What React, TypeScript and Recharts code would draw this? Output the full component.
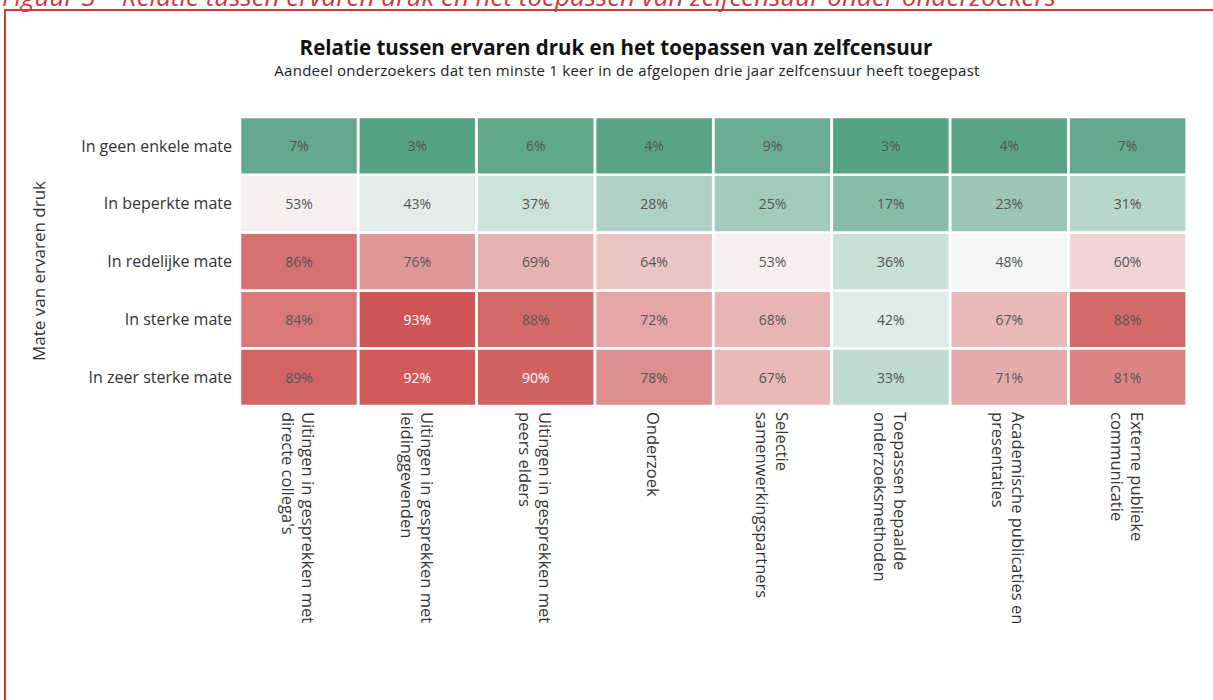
import { BarChart, Bar, XAxis, YAxis, Cell, LabelList } from "recharts";

// Kolommen (vormen van zelfcensuur) en rijen (mate van ervaren druk)
const columns = [
  ["Uitingen in gesprekken met", "directe collega's"],
  ["Uitingen in gesprekken met", "leidinggevenden"],
  ["Uitingen in gesprekken met", "peers elders"],
  ["Onderzoek"],
  ["Selectie", "samenwerkingspartners"],
  ["Toepassen bepaalde", "onderzoeksmethoden"],
  ["Academische publicaties en", "presentaties"],
  ["Externe publieke", "communicatie"],
];

const rowLabels = [
  "In geen enkele mate",
  "In beperkte mate",
  "In redelijke mate",
  "In sterke mate",
  "In zeer sterke mate",
];

// percentage dat ten minste 1 keer zelfcensuur toepaste, per rij
const geenEnkeleMate = [7, 3, 6, 4, 9, 3, 4, 7];
const beperkteMate = [53, 43, 37, 28, 25, 17, 23, 31];
const redelijkeMate = [86, 76, 69, 64, 53, 36, 48, 60];
const sterkeMate = [84, 93, 88, 72, 68, 42, 67, 88];
const zeerSterkeMate = [89, 92, 90, 78, 67, 33, 71, 81];

// stapel van onder naar boven
const stacked = [zeerSterkeMate, sterkeMate, redelijkeMate, beperkteMate, geenEnkeleMate];

const data = columns.map((lines, i) => {
  const row: Record<string, unknown> = { name: lines.join(" "), lines };
  stacked.forEach((vals, r) => {
    row[`r${r}`] = 1;
    row[`p${r}`] = vals[i];
  });
  return row;
});

const FONT = "'Open Sans', 'DejaVu Sans', sans-serif";
const RED = "#d0393c";

function mix(a: number[], b: number[], t: number) {
  const c = a.map((v, k) => Math.round(v + (b[k] - v) * t));
  return `rgb(${c[0]},${c[1]},${c[2]})`;
}

const green = [86, 162, 133];
const white = [250, 250, 250];
const red = [207, 86, 86];

function colorFor(v: number) {
  if (v <= 50) return mix(green, white, Math.max(0, (v - 3) / 47));
  return mix(white, red, Math.min(1, (v - 50) / 43));
}

function XTick({ x, y, payload, index }: any) {
  const lines: string[] = columns[index] ?? [payload.value];
  const off = -((lines.length - 1) * 20) / 2;
  return (
    <g transform={`translate(${x},${y})`}>
      <text
        transform="rotate(90)"
        textAnchor="start"
        dominantBaseline="central"
        fontSize={16.5}
        fontFamily={FONT}
        fill="#333"
      >
        {lines.map((l, k) => (
          <tspan key={k} x={0} y={off + k * 20}>
            {l}
          </tspan>
        ))}
      </text>
    </g>
  );
}

function CellLabel(props: any) {
  const { x, y, width, height, value } = props;
  return (
    <text
      x={x + width / 2}
      y={y + height / 2}
      textAnchor="middle"
      dominantBaseline="central"
      fontSize={14}
      fontFamily={FONT}
      fill={value >= 90 ? "#ffffff" : "#555555"}
    >
      {value}%
    </text>
  );
}

export default function App() {
  return (
    <div
      style={{
        position: "absolute",
        left: 0,
        top: 0,
        width: 1213,
        height: 700,
        overflow: "hidden",
        background: "#fff",
        fontFamily: FONT,
      }}
    >
      <div
        style={{
          position: "absolute",
          left: 2,
          top: -22,
          fontSize: 26,
          fontStyle: "italic",
          color: RED,
          whiteSpace: "nowrap",
        }}
      >
        Figuur 3 – Relatie tussen ervaren druk en het toepassen van zelfcensuur onder onderzoekers
      </div>
      <div
        style={{
          position: "absolute",
          left: 4,
          top: 9,
          width: 1300,
          height: 700,
          borderTop: `2px solid ${RED}`,
          borderLeft: `2px solid ${RED}`,
          background: "transparent",
        }}
      />
      <div
        style={{
          position: "absolute",
          left: 0,
          width: 1232,
          top: 33,
          textAlign: "center",
          fontSize: 20.5,
          fontWeight: 700,
          color: "#111",
        }}
      >
        Relatie tussen ervaren druk en het toepassen van zelfcensuur
      </div>
      <div
        style={{
          position: "absolute",
          left: 0,
          width: 1254,
          top: 60,
          textAlign: "center",
          fontSize: 15,
          letterSpacing: 0.25,
          color: "#222",
        }}
      >
        Aandeel onderzoekers dat ten minste 1 keer in de afgelopen drie jaar zelfcensuur heeft toegepast
      </div>
      <div
        style={{
          position: "absolute",
          left: 38,
          top: 271,
          transform: "translate(-50%, -50%) rotate(-90deg)",
          fontSize: 17,
          color: "#333",
          whiteSpace: "nowrap",
        }}
      >
        Mate van ervaren druk
      </div>
      <div style={{ position: "absolute", left: 0, top: 0 }}>
        <BarChart
          width={1213}
          height={700}
          data={data}
          margin={{ top: 117, right: 26, left: 0, bottom: 0 }}
          barCategoryGap={0}
          barGap={0}
        >
          <XAxis
            dataKey="name"
            type="category"
            axisLine={false}
            tickLine={false}
            interval={0}
            height={294}
            tick={<XTick />}
            tickMargin={0}
          />
          <YAxis
            type="number"
            domain={[0, 5]}
            ticks={[0.5, 1.5, 2.5, 3.5, 4.5]}
            tickFormatter={(v: number) => rowLabels[4 - Math.floor(v)]}
            axisLine={false}
            tickLine={false}
            width={240}
            tick={{ fontSize: 16, fill: "#333", fontFamily: FONT }}
            tickMargin={2}
          />
          {stacked.map((vals, r) => (
            <Bar
              key={r}
              dataKey={`r${r}`}
              stackId="a"
              stroke="#fff"
              strokeWidth={2.5}
              isAnimationActive={false}
            >
              {vals.map((v, i) => (
                <Cell key={i} fill={colorFor(v)} />
              ))}
              <LabelList dataKey={`p${r}`} content={<CellLabel />} />
            </Bar>
          ))}
        </BarChart>
      </div>
    </div>
  );
}
